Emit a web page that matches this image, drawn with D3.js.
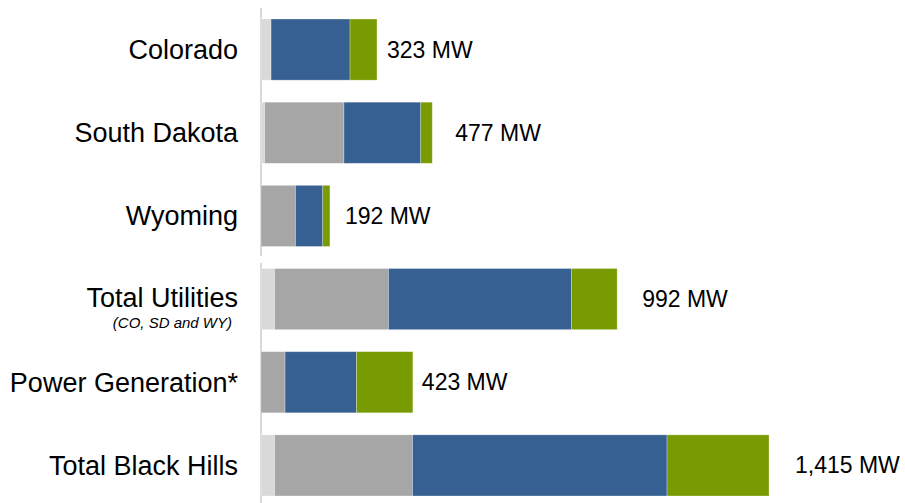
<!DOCTYPE html>
<html>
<head>
<meta charset="utf-8">
<script src="https://cdn.jsdelivr.net/npm/d3@7"></script>
<style>
  html, body { margin: 0; padding: 0; background: #ffffff; }
  svg { display: block; }
  text { font-family: "Liberation Sans", Arial, sans-serif; fill: #000; }
</style>
</head>
<body>
<div id="chart"></div>
<script>
// ---- Data ----
const categories = ["Colorado", "South Dakota", "Wyoming", "Total Utilities", "Power Generation*", "Total Black Hills"];
const subtitles = ["", "", "", "(CO, SD and WY)", "", ""];
const seriesNames = ["Other", "Coal", "Natural Gas", "Wind"];
const otherMW = [28, 10, 0, 38, 0, 38];
const coalMW  = [0, 221, 96, 317, 67, 384];
const gasMW   = [220, 214, 76, 510, 199, 709];
const windMW  = [75, 32, 20, 127, 157, 284];
const totalsMW = [323, 477, 192, 992, 423, 1415];

// ---- Layout / style ----
const W = 905, H = 503;
const colors = ["#d9d9d9", "#a6a6a6", "#366092", "#779b00"];
const labelDx = [10, 23, 15, 25, 9, 26];

const svg = d3.select("#chart").append("svg").attr("width", W).attr("height", H);

const x = d3.scaleLinear().domain([0, 1415]).range([261, 769]);
const y = d3.scaleBand().domain(categories).range([8, 507]).paddingInner(0.265).paddingOuter(0.1325);

const rows = categories.map((c, i) => ({
  cat: c, Other: otherMW[i], Coal: coalMW[i], "Natural Gas": gasMW[i], Wind: windMW[i]
}));
const stacked = d3.stack().keys(seriesNames)(rows);

// axis lines (one per panel)
const panelExtent = [[8, 256], [263, 503]];
svg.selectAll("line.axis").data(panelExtent).join("line")
  .attr("class", "axis")
  .attr("x1", x(0)).attr("x2", x(0))
  .attr("y1", d => d[0]).attr("y2", d => d[1])
  .attr("stroke", "#d9d9d9").attr("stroke-width", 2);

// bars
svg.selectAll("g.series").data(stacked).join("g")
  .attr("class", "series")
  .attr("fill", (d, i) => colors[i])
  .selectAll("rect").data(d => d).join("rect")
  .attr("x", d => x(d[0]))
  .attr("width", d => Math.max(0, x(d[1]) - x(d[0])))
  .attr("y", d => y(d.data.cat))
  .attr("height", y.bandwidth())
  .attr("stroke", "#ffffff").attr("stroke-opacity", 0.35).attr("stroke-width", 0.8);

// value labels
const fmt = d3.format(",");
svg.selectAll("text.val").data(categories).join("text")
  .attr("class", "val")
  .attr("x", (c, i) => x(totalsMW[i]) + labelDx[i])
  .attr("y", c => y(c) + y.bandwidth() / 2)
  .attr("dy", "0.35em")
  .attr("font-size", 23)
  .text((c, i) => fmt(totalsMW[i]) + " MW");

// category labels
svg.selectAll("text.cat").data(categories).join("text")
  .attr("class", "cat")
  .attr("x", 238)
  .attr("y", (c, i) => y(c) + y.bandwidth() / 2 - (subtitles[i] ? 2 : 0))
  .attr("dy", "0.35em")
  .attr("text-anchor", "end")
  .attr("font-size", 27)
  .text(c => c);

svg.selectAll("text.sub").data(categories.filter((c, i) => subtitles[i])).join("text")
  .attr("class", "sub")
  .attr("x", 232)
  .attr("y", c => y(c) + y.bandwidth() / 2 + 24)
  .attr("dy", "0.35em")
  .attr("text-anchor", "end")
  .attr("font-size", 15)
  .attr("font-style", "italic")
  .text(c => subtitles[categories.indexOf(c)]);
</script>
</body>
</html>
